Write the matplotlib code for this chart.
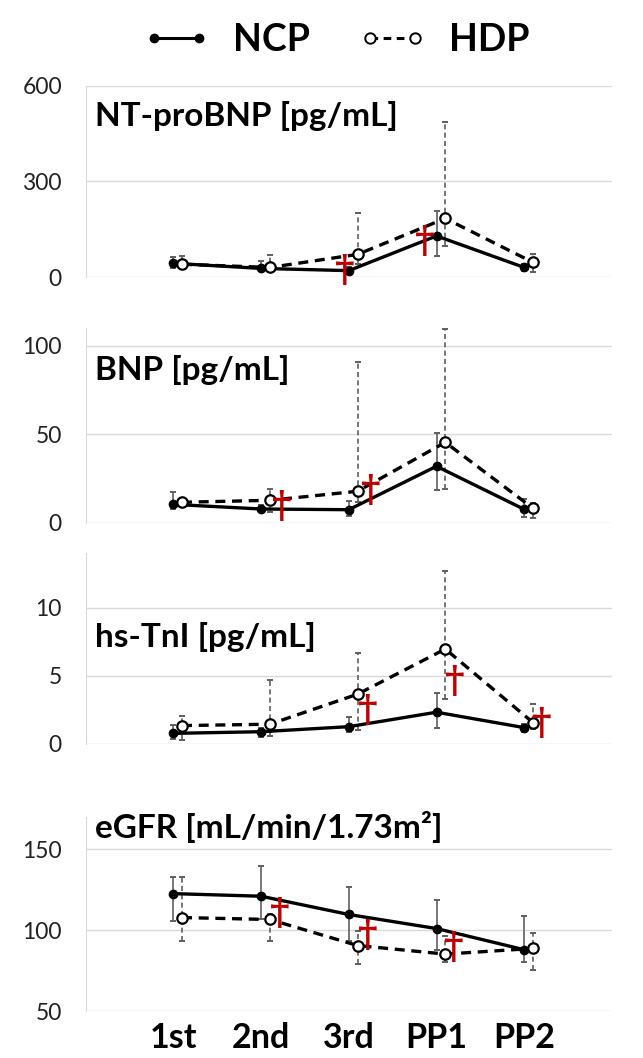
import numpy as np
import matplotlib.pyplot as plt
from matplotlib.lines import Line2D

plt.rcParams['font.family'] = ['Lato', 'DejaVu Sans']

visits = ['1st', '2nd', '3rd', 'PP1', 'PP2']

# NT-proBNP [pg/mL]
ntpro_ncp = [43, 27, 20, 129, 30]
ntpro_ncp_lo = [28, 20, 12, 66, 20]
ntpro_ncp_hi = [62, 50, 30, 208, 40]
ntpro_hdp = [40, 30, 71, 184, 46]
ntpro_hdp_lo = [25, 18, 40, 97, 16]
ntpro_hdp_hi = [65, 69, 200, 486, 72]
ntpro_dag_x = [1.96, 2.87]
ntpro_dag_y = [20, 111]

# BNP [pg/mL]
bnp_ncp = [10.5, 7.9, 7.5, 32, 7.7]
bnp_ncp_lo = [8.0, 6.0, 4.1, 18.6, 3.6]
bnp_ncp_hi = [17.7, 10.0, 12.4, 51, 13.5]
bnp_hdp = [11.7, 12.8, 17.9, 45.5, 8.3]
bnp_hdp_lo = [9.5, 6.2, 12.0, 19.2, 2.6]
bnp_hdp_hi = [14.0, 19.4, 91, 109.4, 11.0]
bnp_dag_x = [1.24, 2.25]
bnp_dag_y = [9.2, 18.2]

# hs-TnI [pg/mL]
tni_ncp = [0.78, 0.9, 1.27, 2.33, 1.2]
tni_ncp_lo = [0.34, 0.5, 0.86, 1.2, 0.9]
tni_ncp_hi = [1.4, 1.15, 2.0, 3.75, 1.5]
tni_hdp = [1.35, 1.45, 3.65, 6.96, 1.57]
tni_hdp_lo = [0.3, 0.6, 1.03, 3.3, 1.08]
tni_hdp_hi = [2.08, 4.7, 6.64, 12.7, 2.94]
tni_dag_x = [2.22, 3.21, 4.2]
tni_dag_y = [2.45, 4.56, 1.52]

# eGFR [mL/min/1.73m2]
egfr_ncp = [122.6, 121, 109.7, 101, 87.9]
egfr_ncp_lo = [105.8, 106.8, 93.4, 87.9, 80.4]
egfr_ncp_hi = [132.9, 139.7, 126.7, 118.9, 108.8]
egfr_hdp = [107.8, 106.6, 90.5, 85.2, 88.7]
egfr_hdp_lo = [93.4, 93.4, 78.8, 80.0, 75.5]
egfr_hdp_hi = [133.1, 110.0, 99.6, 96.5, 98.4]
egfr_dag_x = [1.21, 2.22, 3.2]
egfr_dag_y = [110.5, 96.5, 89.3]

panels = [
    ('NT-proBNP [pg/mL]', ntpro_ncp, ntpro_ncp_lo, ntpro_ncp_hi, ntpro_hdp, ntpro_hdp_lo, ntpro_hdp_hi,
     ntpro_dag_x, ntpro_dag_y, (0, 600), [0, 300, 600], (86, 277), 126),
    ('BNP [pg/mL]', bnp_ncp, bnp_ncp_lo, bnp_ncp_hi, bnp_hdp, bnp_hdp_lo, bnp_hdp_hi,
     bnp_dag_x, bnp_dag_y, (0, 110), [0, 50, 100], (328, 523), 380),
    ('hs-TnI [pg/mL]', tni_ncp, tni_ncp_lo, tni_ncp_hi, tni_hdp, tni_hdp_lo, tni_hdp_hi,
     tni_dag_x, tni_dag_y, (0, 14), [0, 5, 10], (553, 744), 647),
    ('eGFR [mL/min/1.73m²]', egfr_ncp, egfr_ncp_lo, egfr_ncp_hi, egfr_hdp, egfr_hdp_lo, egfr_hdp_hi,
     egfr_dag_x, egfr_dag_y, (50, 170), [50, 100, 150], (817, 1011), 838),
]

W, H = 643, 1058
fig = plt.figure(figsize=(W / 100, H / 100), dpi=100)

x = np.arange(len(visits))
left, right = 85.5, 612
lw = 2.4
errc = '#5f5f5f'

for i, (title, ncp, ncp_lo, ncp_hi, hdp, hdp_lo, hdp_hi, dx, dy, ylim, yt, (top, bot), base) in enumerate(panels):
    ax = fig.add_axes([left / W, 1 - bot / H, (right - left) / W, (bot - top) / H])
    ncp = np.array(ncp); hdp = np.array(hdp)
    ax.errorbar(x, ncp, yerr=[ncp - np.array(ncp_lo), np.array(ncp_hi) - ncp], fmt='none',
                ecolor=errc, elinewidth=1.2, capsize=2.2, capthick=1.4, zorder=2)
    e2 = ax.errorbar(x + 0.1, hdp, yerr=[hdp - np.array(hdp_lo), np.array(hdp_hi) - hdp], fmt='none',
                     ecolor=errc, elinewidth=1.2, capsize=2.2, capthick=1.4, zorder=2)
    e2[2][0].set_linestyle((0, (3, 2)))
    ax.plot(x, ncp, '-o', color='black', lw=lw, ms=6, zorder=3)
    ax.plot(x + 0.1, hdp, '--o', color='black', lw=lw, ms=7.5, mfc='white', mew=1.6,
            dashes=(3, 2), zorder=4)
    # significance daggers
    for xx, yy in zip(dx, dy):
        ax.text(xx, yy, '†', color='#c00000', fontsize=27, fontweight='bold', ha='center', va='center',
                family='DejaVu Serif', zorder=5)
    ax.set_xlim(-1, 5)
    ax.set_ylim(*ylim)
    ax.set_yticks(yt)
    ax.yaxis.grid(True, color='#d9d9d9', lw=1)
    ax.set_axisbelow(True)
    for s in ['top', 'right', 'bottom']:
        ax.spines[s].set_visible(False)
    ax.spines['left'].set_color('#d9d9d9')
    ax.tick_params(axis='y', length=0, pad=17, labelsize=16.5, labelcolor='#222222')
    ax.tick_params(axis='x', length=0)
    if i == 3:
        ax.set_xticks(x)
        ax.set_xticklabels(visits, fontsize=24.5, fontweight='bold')
        ax.tick_params(axis='x', pad=8)
    else:
        ax.set_xticks([])
    fig.text(95 / W, 1 - base / H, title, fontsize=24, fontweight='bold', ha='left', va='baseline')

handles = [Line2D([], [], color='black', lw=2.2, marker='o', ms=6),
           Line2D([], [], color='black', lw=2.2, ls='--', dashes=(2.5, 1.8), marker='o', ms=7.5, mfc='white', mew=1.4)]
fig.legend(handles, ['NCP', 'HDP'], loc='center', bbox_to_anchor=(336 / W, 1 - 40 / H), ncol=2,
           numpoints=2, frameon=False, prop={'size': 27, 'weight': 'bold'},
           handlelength=1.8, handletextpad=0.6, columnspacing=1.3)

fig.savefig('out.png', dpi=100)
